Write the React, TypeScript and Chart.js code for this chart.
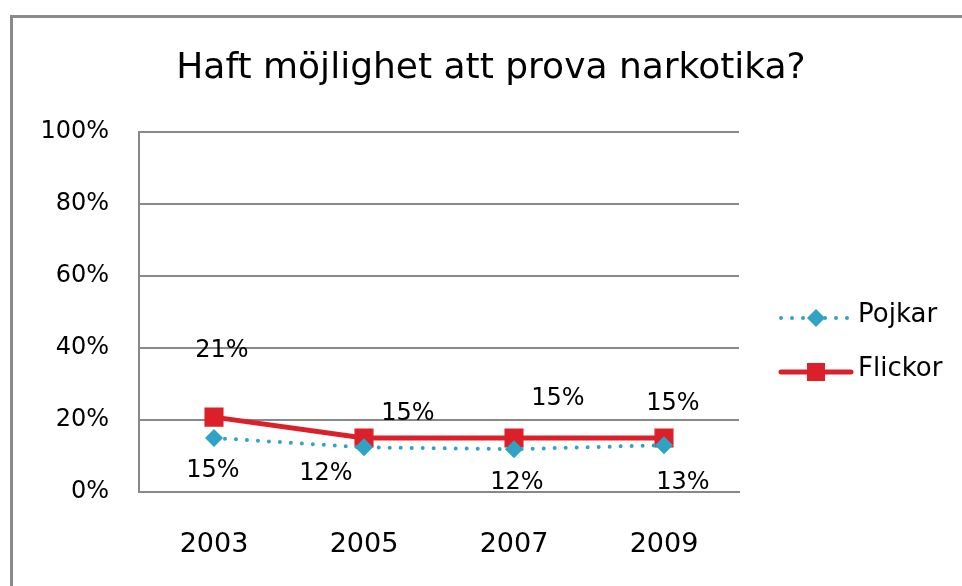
import React, { useEffect, useRef } from "react";
import { Chart, registerables } from "chart.js";

Chart.register(...registerables);

const title = "Haft möjlighet att prova narkotika?";
const categories = ["2003", "2005", "2007", "2009"];
const pojkar = [15, 12.4, 11.9, 13];
const flickor = [20.8, 15, 15, 15];
const seriesNames = ["Pojkar", "Flickor"];

const FONT = "'DejaVu Sans', sans-serif";
const BLUE = "#2fa3c4";
const RED = "#dc2029";
const GRID = "#888888";

const titlePlugin = {
  id: "customTitle",
  afterDraw(chart: any, _args: any, opts: any) {
    const ctx = chart.ctx;
    ctx.save();
    ctx.font = `36px ${FONT}`;
    ctx.fillStyle = "#000";
    ctx.textAlign = "center";
    ctx.textBaseline = "alphabetic";
    ctx.fillText(opts.text, opts.x, opts.y);
    ctx.restore();
  },
};

const labelPlugin = {
  id: "pointLabels",
  afterDatasetsDraw(chart: any, _args: any, opts: any) {
    const ctx = chart.ctx;
    ctx.save();
    ctx.font = `24px ${FONT}`;
    ctx.fillStyle = "#000";
    ctx.textAlign = "center";
    ctx.textBaseline = "middle";
    chart.data.datasets.forEach((ds: any, di: number) => {
      const meta = chart.getDatasetMeta(di);
      const offs = opts.offsets[di];
      meta.data.forEach((pt: any, i: number) => {
        const v = ds.data[i];
        ctx.fillText(Math.round(v) + "%", pt.x + offs[i][0], pt.y + offs[i][1]);
      });
    });
    ctx.restore();
  },
};

const legendPlugin = {
  id: "customLegend",
  afterDraw(chart: any, _args: any, opts: any) {
    const ctx = chart.ctx;
    const x0 = opts.x;
    ctx.save();
    chart.data.datasets.forEach((ds: any, di: number) => {
      const y = opts.ys[di];
      ctx.save();
      ctx.strokeStyle = ds.borderColor;
      ctx.lineWidth = ds.borderWidth;
      ctx.lineCap = "round";
      ctx.setLineDash(ds.borderDash || []);
      ctx.beginPath();
      ctx.moveTo(x0, y);
      ctx.lineTo(x0 + opts.lineLen, y);
      ctx.stroke();
      ctx.restore();
      ctx.fillStyle = ds.pointBackgroundColor;
      const cx = x0 + opts.lineLen / 2;
      if (ds.pointStyle === "rectRot") {
        const r = opts.diamondR;
        ctx.beginPath();
        ctx.moveTo(cx, y - r);
        ctx.lineTo(cx + r, y);
        ctx.lineTo(cx, y + r);
        ctx.lineTo(cx - r, y);
        ctx.closePath();
        ctx.fill();
      } else {
        const s = opts.squareS;
        ctx.fillRect(cx - s / 2, y - s / 2, s, s);
      }
      ctx.fillStyle = "#000";
      ctx.font = `26px ${FONT}`;
      ctx.textAlign = "left";
      ctx.textBaseline = "middle";
      ctx.fillText(ds.label, x0 + opts.lineLen + 7, y - 3);
    });
    ctx.restore();
  },
};

export default function App() {
  const ref = useRef<HTMLCanvasElement>(null);
  useEffect(() => {
    if (!ref.current) return;
    const chart = new Chart(ref.current, {
      type: "line",
      data: {
        labels: categories,
        datasets: [
          {
            label: seriesNames[0],
            data: pojkar,
            borderColor: BLUE,
            backgroundColor: BLUE,
            pointBackgroundColor: BLUE,
            pointBorderColor: BLUE,
            borderWidth: 4,
            borderDash: [0, 11],
            borderCapStyle: "round",
            pointStyle: "rectRot",
            pointRadius: 9,
            pointBorderWidth: 0,
            tension: 0,
          } as any,
          {
            label: seriesNames[1],
            data: flickor,
            borderColor: RED,
            backgroundColor: RED,
            pointBackgroundColor: RED,
            pointBorderColor: RED,
            borderWidth: 5,
            pointStyle: "rect",
            pointRadius: 13.5,
            pointBorderWidth: 0,
            tension: 0,
          } as any,
        ],
      },
      options: {
        animation: false,
        responsive: true,
        maintainAspectRatio: false,
        layout: { padding: { left: 0, right: 223, top: 132, bottom: 28 } },
        plugins: {
          legend: { display: false },
          tooltip: { enabled: false },
          title: { display: false },
          customTitle: { text: title, x: 491, y: 78 },
          pointLabels: {
            offsets: [
              [[-1, 33], [-38, 26], [3, 34], [19, 38]],
              [[8, -66], [44, -24], [44, -39], [9, -34]],
            ],
          },
          customLegend: { x: 781, ys: [318, 372], lineLen: 70, diamondR: 9, squareS: 18 },
        } as any,
        scales: {
          x: {
            offset: true,
            grid: { display: false, drawTicks: false },
            border: { display: true, color: GRID, width: 2 },
            ticks: { color: "#000", font: { family: FONT, size: 27 }, padding: 37 },
            afterFit: (s: any) => { s.height = 66; },
          },
          y: {
            min: 0,
            max: 100,
            grid: { color: GRID, lineWidth: 2, drawTicks: false },
            border: { display: true, color: GRID, width: 2 },
            ticks: {
              stepSize: 20,
              color: "#000",
              font: { family: FONT, size: 24 },
              padding: 30,
              callback: (v: any) => v + "%",
            },
            afterFit: (s: any) => { s.width = 139; },
          },
        },
      },
      plugins: [labelPlugin, legendPlugin, titlePlugin],
    });
    return () => chart.destroy();
  }, []);
  return (
    <div style={{ position: "fixed", left: 0, top: 0, width: 962, height: 586, overflow: "hidden", background: "#fff" }}>
      <div
        style={{
          position: "absolute",
          left: 10,
          top: 15,
          width: 2000,
          height: 2000,
          border: "3px solid #8a8a8a",
          boxSizing: "border-box",
        }}
      />
      <div style={{ position: "absolute", left: 0, top: 0, width: 962, height: 586 }}>
        <canvas ref={ref} />
      </div>
    </div>
  );
}
